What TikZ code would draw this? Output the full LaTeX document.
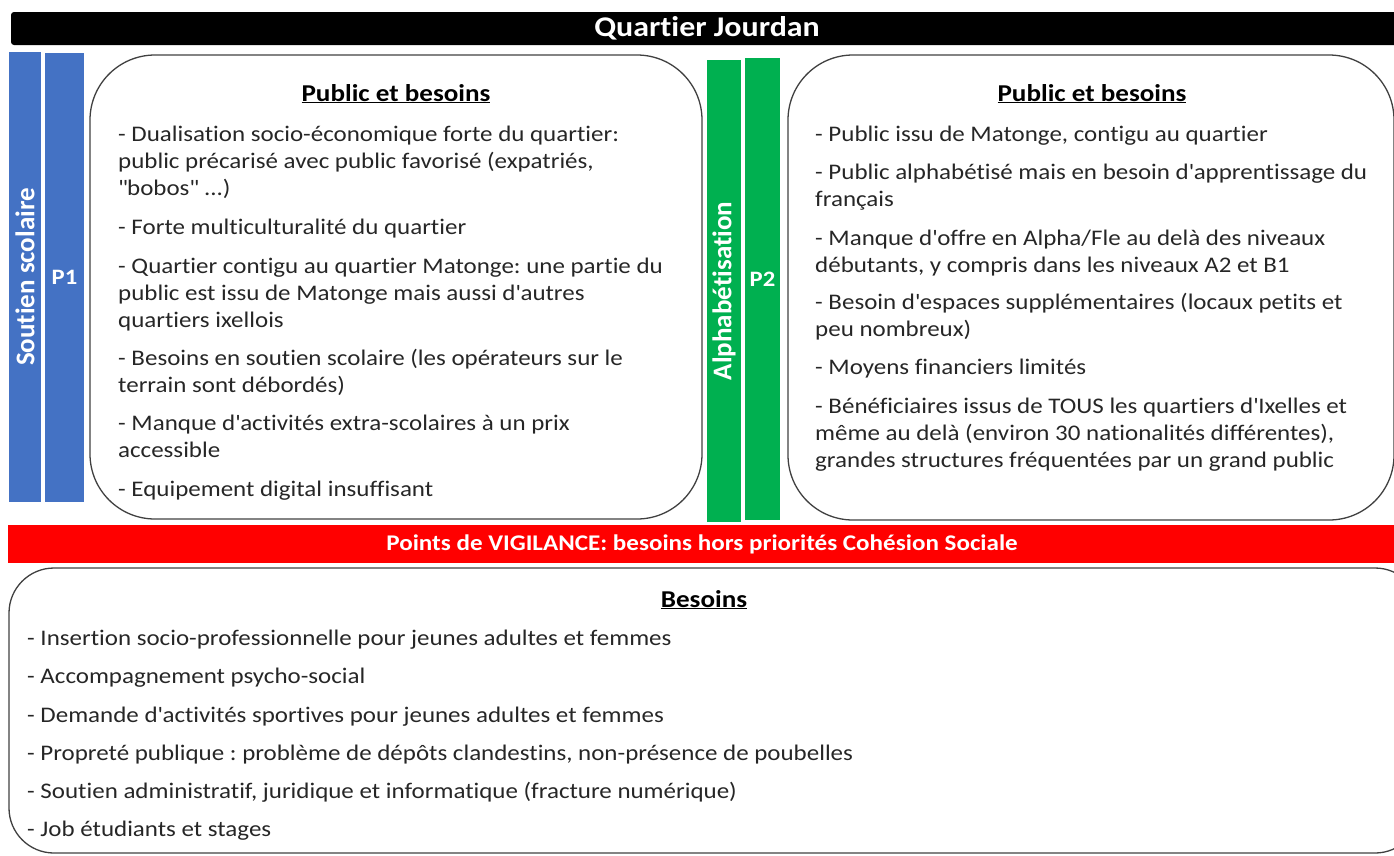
\documentclass[tikz,border=0pt]{standalone}
\usepackage{fontspec}
\setmainfont{Carlito}[FakeStretch=1.12, Ligatures={NoCommon,NoContextual}, Contextuals=NoAlternate]
\newfontfamily\barfont{Carlito}[Ligatures={NoCommon,NoContextual}, Contextuals=NoAlternate]
\newcommand{\q}{\textquotesingle}
\definecolor{pblue}{HTML}{4472C4}
\definecolor{pgreen}{HTML}{00B050}
\definecolor{vigired}{HTML}{FF0000}
\definecolor{txtgray}{HTML}{262626}
\tikzset{
  panel/.style={draw=black!75, line width=1.3pt, rounded corners=#1, inner sep=0pt},
  band/.style={fill=#1, inner sep=0pt, text=white, font=\fontsize{22}{26}\selectfont\bfseries},
  barname/.style={font=\barfont\fontsize{27}{30}\selectfont\bfseries},
  bodytext/.style={anchor=base west, inner sep=0pt, text=txtgray, font=\fontsize{22.3}{27}\selectfont},
  heading/.style={anchor=base, inner sep=0pt, text=black, font=\fontsize{24.2}{28}\selectfont\bfseries}
}
\frenchspacing
\begin{document}
\begin{tikzpicture}[x=1pt, y=-1pt]
  \useasboundingbox (0,0) rectangle (1394,855);
  % top and middle bands
  \node[band=black, rounded corners=3pt, minimum width=1392, minimum height=33,
        font=\fontsize{28.5}{32}\selectfont\bfseries] (title) at (707,28.5) {Quartier Jourdan};
  \node[band=vigired, minimum width=1388, minimum height=38,
        font=\fontsize{22.4}{26}\selectfont\bfseries] (vigilance) at (702,544) {Points de VIGILANCE: besoins hors priorités Cohésion Sociale};
  % priority bars
  \node[band=pblue, barname, rotate=90, minimum width=450, minimum height=32] (soutien) at (25,277) {Soutien scolaire};
  \node[band=pblue, minimum width=39, minimum height=449] (p1) at (64.5,277.5) {P1};
  \node[band=pgreen, barname, rotate=90, minimum width=462, minimum height=34] (alpha) at (724,291) {Alphabétisation};
  \node[band=pgreen, minimum width=35, minimum height=462] (p2) at (762.5,289) {};
  \node[band=none, fill=none] (p2label) at (762.5,279) {P2};
  % panels
  \node[panel=65pt, minimum width=612, minimum height=464] (leftpanel) at (396,287) {};
  \node[panel=65pt, minimum width=606, minimum height=465] (rightpanel) at (1091,287.5) {};
  \node[panel=45pt, minimum width=1411, minimum height=285] (bottompanel) at (714.5,710.5) {};
  % headings
  \node[heading] (lefthead) at (396,101) {\underline{Public et besoins}};
  \node[heading] (righthead) at (1092,101) {\underline{Public et besoins}};
  \node[heading] (bottomhead) at (704,607) {\underline{Besoins}};
  % left panel lines
  \foreach \y/\txt [count=\i] in {
      134/{- Dualisation socio-économique forte du quartier:},
      161/{public précarisé avec public favorisé (expatriés,},
      188/{\textquotedbl bobos\textquotedbl{} ...)},
      227/{- Forte multiculturalité du quartier},
      266/{- Quartier contigu au quartier Matonge: une partie du},
      293/{public est issu de Matonge mais aussi d\q autres},
      320/{quartiers ixellois},
      358/{- Besoins en soutien scolaire (les opérateurs sur le},
      385/{terrain sont débordés)},
      423/{- Manque d\q activités extra-scolaires à un prix},
      450/{accessible},
      489/{- Equipement digital insuffisant}}
    \node[bodytext] (left\i) at (118,\y+7) {\txt};
  % right panel lines
  \foreach \y/\txt [count=\i] in {
      134/{- Public issu de Matonge, contigu au quartier},
      172/{- Public alphabétisé mais en besoin d\q apprentissage du},
      199/{français},
      238/{- Manque d\q offre en Alpha/Fle au delà des niveaux},
      265/{débutants, y compris dans les niveaux A2 et B1},
      302/{- Besoin d\q espaces supplémentaires (locaux petits et},
      329/{peu nombreux)},
      367/{- Moyens financiers limités},
      406/{- Bénéficiaires issus de TOUS les quartiers d\q Ixelles et},
      433/{même au delà (environ 30 nationalités différentes),},
      460/{grandes structures fréquentées par un grand public}}
    \node[bodytext] (right\i) at (815,\y+7) {\txt};
  % bottom panel lines
  \foreach \y/\txt [count=\i] in {
      638/{- Insertion socio-professionnelle pour jeunes adultes et femmes},
      676/{- Accompagnement psycho-social},
      715/{- Demande d\q activités sportives pour jeunes adultes et femmes},
      753/{- Propreté publique : problème de dépôts clandestins, non-présence de poubelles},
      791/{- Soutien administratif, juridique et informatique (fracture numérique)},
      829/{- Job étudiants et stages}}
    \node[bodytext] (bottom\i) at (27,\y+7) {\txt};
\end{tikzpicture}
\end{document}
